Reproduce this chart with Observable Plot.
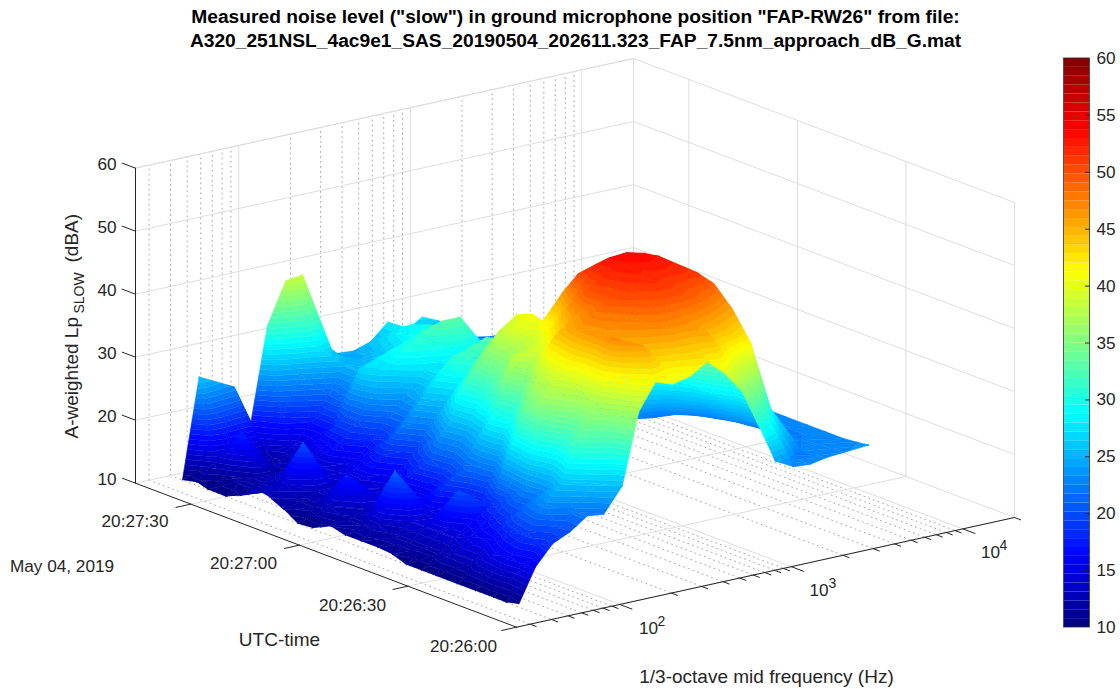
<!DOCTYPE html>
<html><head><meta charset="utf-8">
<style>html,body{margin:0;padding:0;background:#fff}svg{display:block}</style>
<script src="https://cdn.jsdelivr.net/npm/d3@7"></script>
<script src="https://cdn.jsdelivr.net/npm/@observablehq/plot@0.6"></script>
</head><body><div id="chart"></div>
<script>
const titleLines = ['Measured noise level ("slow") in ground microphone position "FAP-RW26" from file:','A320_251NSL_4ac9e1_SAS_20190504_202611.323_FAP_7.5nm_approach_dB_G.mat'];
const freqs = [40,50,63,80,100,125,160,200,250,315,400,500,630,800,1000,1250,1600,2000,2500,3150,4400];
const times = [9,12.5,16,21,26,32,36,40,44,48,52.6,57,61,66,70,74,78,82,86,90,95,98,102];
const row09 = [10.5,15.8,18.9,20.2,22.1,21.8,25.6,36.8,41,40,40.7,42.4,40,36.4,30.4,24.2,22.7,22.5,23,23.2,23.5];
const row12 = [10,15,18,20,22,26,32,41,46,43,44,44,45,41,37,32,23,22.5,22.5,23,23.2];
const row16 = [10,16,19,23,26,33,37,47,45,46,47,47,46,45,43.5,41.6,30,22.4,22.5,23,23];
const row21 = [10,15,18,22,22,30,38,46,47,48,49.5,50,50,49,47.5,45.8,39.8,29.5,22,22.5,23];
const row26 = [10,13,16,19,23,36,40,46,48,50,51,52,51.5,51.5,51,48.7,43,34,24.5,22,23];
const row32 = [10,13,15,17,20,33,38,44,46,50,52,52.8,53.5,52.9,51,47,41,33,24,22,23];
const row36 = [10,12,14,16,18,25,34,40,43,48,51.5,53,53.2,52.5,49,43,36,28,23,22,23];
const row40 = [10,12,14,20,15,21,29,35,40,44,50.2,51,51.6,50,46,40,32,26,22.5,22,22.5];
const row44 = [10.8,12,14,15,16,22,30,38,38,40,46.6,47,47,44,40,34,27,23,22,22,22.5];
const row48 = [11,12,14,15,19,21,26,33,37,39,40,38,33,28,24,22.5,22,22,22,22,22.5];
const row53 = [11,13,21,15,15,19,24,30,36,40,41,38,33,27,23,22.5,22,22,22,22,22];
const row57 = [11,12,14,14,15,20,25,31,35,38,40,38,35,29,24,22.5,22,22,22,22,22];
const row61 = [11.6,12,13,14,16,18,22,27,31,33,35,35,33,28,24,22,22,22,22,22,22];
const row66 = [10.2,13,17.5,13,14,16,19,23,26,29,31,32,31,27,24,22,22,22,22,22,22];
const row70 = [10,12,13,14,15,18,22,25,28,31,32,33,32,28,24,22,22,22,22,22,22];
const row74 = [11.4,12,13,13,15,17,19,21,25,27,28,30,31,28,24,22,22,22,22,22,22];
const row78 = [12.5,14,20,14,14,15,18,21,24,27,28,29,29,26,24,22,22,22,22,22,22];
const row82 = [13,12,14,15,14,17,20,25,28,30,31,33,33,29,25,22.5,22,22,22,22,22];
const row86 = [11,12,13,13,14,16,20,27,28,29,30,31,31,28,25,22.5,22,22,22,22,22];
const row90 = [10,12,12,12,13,15,17,22,25,25,27,29,30,28,24.5,22.5,22,22,22,22,22];
const row95 = [10,11,18,12,12,14,17,21,25,25,26,28,29,27,24,22.5,22,22,22,22,22];
const row98 = [10.5,13,15,14,13,18,24,28,26,24,25,27,28,26,24,22,22,22,22,22,22];
const row102 = [10,25.8,24.4,23,16.6,31.5,38,38.4,27.4,24.7,24.5,25.4,27.9,25.8,27.5,26.3,24,22.5,22,22,22];
const levels = [row09,row12,row16,row21,row26,row32,row36,row40,row44,row48,row53,row57,row61,row66,row70,row74,row78,row82,row86,row90,row95,row98,row102];

const zTicks = [10,20,30,40,50,60];
const timeTicks = [0,30,60,90];
const timeLabels = ['20:26:00','20:26:30','20:27:00','20:27:30'];
const freqMajor = [100,1000,10000];
const freqMinor = [30,40,50,60,70,80,90,200,300,400,500,600,700,800,900,2000,3000,4000,5000,6000,7000,8000,9000];
const cbTicks = [10,15,20,25,30,35,40,45,50,55,60];

// view geometry of the 3-D axes box
const tA = d3.scaleLinear([0,105.3],[0,1]);
const fB = d3.scaleLog([25,20000],[0,1]);
const P = {ox:516,oy:626.7,ax:-381,ay:-144,bx:498,by:-109.7,zy:-6.3};
const px = (a,b)=>P.ox+P.ax*a+P.bx*b;
const py = (a,b,z)=>P.oy+P.ay*a+P.by*b+P.zy*(z-10);

// jet colormap, 64 levels
function jet(u){const c=x=>Math.max(0,Math.min(1,x));const r=c(1.5-Math.abs(4*u-3)),g=c(1.5-Math.abs(4*u-2)),b=c(1.5-Math.abs(4*u-1));return d3.rgb(r*255,g*255,b*255).formatHex();}
const N=64, zMin=10, zMax=60, dz=(zMax-zMin)/N;
const jetRange=d3.range(N).map(i=>jet((i+.5)/N));
const thresholds=d3.range(1,N).map(i=>zMin+i*dz);

function clip(poly,lev,keepAbove){const out=[];for(let i=0;i<poly.length;i++){const p=poly[i],q=poly[(i+1)%poly.length];const pin=keepAbove?p.v>=lev:p.v<=lev,qin=keepAbove?q.v>=lev:q.v<=lev;if(pin)out.push(p);if(pin!==qin){const s=(lev-p.v)/(q.v-p.v);out.push({x:p.x+s*(q.x-p.x),y:p.y+s*(q.y-p.y),v:lev});}}return out;}
const verts=[];let pid=0;
function addTri(tri){const lo=d3.min(tri,d=>d.v),hi=d3.max(tri,d=>d.v);
 const k0=Math.max(0,Math.floor((lo-zMin)/dz)),k1=Math.min(N-1,Math.floor((hi-zMin)/dz));
 for(let k=k0;k<=k1;k++){const L=zMin+k*dz;let poly=clip(tri,L,true);if(poly.length)poly=clip(poly,L+dz,false);if(poly.length<3)continue;pid++;const band=L+dz/2;for(const p of poly)verts.push({x:p.x,y:p.y,band,id:pid});}}
const node=(i,j)=>{const a=tA(times[i]),b=fB(freqs[j]),v=levels[i][j];return {x:px(a,b),y:py(a,b,v),v};};
for(let i=times.length-2;i>=0;i--)for(let j=freqs.length-2;j>=0;j--){
 const n00=node(i,j),n01=node(i,j+1),n10=node(i+1,j),n11=node(i+1,j+1);
 addTri([n10,n11,n01]);addTri([n10,n01,n00]);
}

// axes box
const seg=[];let sid=0;
const addSeg=(p,q)=>{sid++;seg.push({x:p[0],y:p[1],id:sid});seg.push({x:q[0],y:q[1],id:sid});};
const P3=(a,b,z)=>[px(a,b),py(a,b,z)];
for(const z of zTicks){addSeg(P3(1,0,z),P3(1,1,z));addSeg(P3(1,1,z),P3(0,1,z));}
for(const t of timeTicks){const a=tA(t);addSeg(P3(a,1,10),P3(a,1,60));addSeg(P3(a,0,10),P3(a,1,10));}
for(const f of freqMajor){const b=fB(f);addSeg(P3(1,b,10),P3(1,b,60));addSeg(P3(1,b,10),P3(0,b,10));}
addSeg(P3(1,1,10),P3(1,1,60));addSeg(P3(0,1,10),P3(0,1,60));addSeg(P3(1,0,60),P3(1,1,60));
const minor=[];let mid=0;
const addMinor=(p,q)=>{mid++;minor.push({x:p[0],y:p[1],id:mid});minor.push({x:q[0],y:q[1],id:mid});};
for(const f of freqMinor){const b=fB(f);addMinor(P3(1,b,10),P3(1,b,60));addMinor(P3(1,b,10),P3(0,b,10));}
const dark=[];let did=0;
const addDark=(p,q)=>{did++;dark.push({x:p[0],y:p[1],id:did});dark.push({x:q[0],y:q[1],id:did});};
addDark(P3(1,0,10),P3(1,0,60));addDark(P3(1,0,10),P3(0,0,10));addDark(P3(0,0,10),P3(0,1,10));
for(const z of zTicks)addDark(P3(1,0,z),P3(1.035,0,z));
for(const t of timeTicks)addDark(P3(tA(t),0,10),P3(tA(t),-.03,10));
for(const f of freqMajor)addDark(P3(0,fB(f),10),P3(-.032,fB(f),10));
for(const f of freqMinor)addDark(P3(0,fB(f),10),P3(-.016,fB(f),10));
addDark(P3(0,1,10),P3(-.016,1,10));

// colorbar
const cb=d3.scaleLinear([10,60],[627,58]);
const cbRects=d3.range(N).map(i=>({v0:zMin+i*dz,v1:zMin+(i+1)*dz,band:zMin+(i+.5)*dz}));
for(const v of cbTicks){if(v>10&&v<60)addDark([1085,cb(v)],[1089,cb(v)]);}

const ink='#262626', font='"Liberation Sans", Arial, sans-serif';
const texts=[
 {s:titleLines[0],x:575,y:16,a:'middle',w:'bold',c:'#000',fs:19.2},
 {s:titleLines[1],x:575,y:40,a:'middle',w:'bold',c:'#000',fs:19.2},
 {s:'May 04, 2019',x:61.5,y:566,a:'middle',c:ink,fs:17.2},
 {s:'UTC-time',x:279,y:639,a:'middle',c:ink,fs:19},
 {s:'1/3-octave mid frequency (Hz)',x:766,y:676,a:'middle',c:ink,fs:19},
];
const tickY=[521,563,605,646].reverse(), tickX=[134.5,243,352,463].reverse();
timeLabels.forEach((s,i)=>texts.push({s,x:tickX[i],y:tickY[i],a:'middle',c:ink,fs:17.2}));
zTicks.forEach(z=>texts.push({s:String(z),x:116,y:py(1,0,z)-4,a:'end',c:ink,fs:17.2}));
const expo=[['10','2',648,628,661,621],['10','3',818.5,590,832,583],['10','4',990,552,1003,545]];
for(const [m,e,x,y,x2,y2] of expo){texts.push({s:m,x,y,a:'middle',c:ink,fs:17.2});texts.push({s:e,x:x2,y:y2,a:'middle',c:ink,fs:14});}
cbTicks.forEach(v=>texts.push({s:String(v),x:1096,y:cb(v),a:'start',c:ink,fs:17.2}));
const yLabel=[{s:'A-weighted Lp',y:438,fs:19,x:71},{s:'SLOW',y:313,fs:14,x:79},{s:'(dBA)',y:262,fs:19,x:71}];

const plot=Plot.plot({
 width:1120,height:689,margin:0,
 x:{domain:[0,1120],range:[0,1120],axis:null},
 y:{domain:[0,689],range:[0,689],axis:null},
 color:{type:'threshold',domain:thresholds,range:jetRange},
 style:{background:'#fff',fontFamily:font},
 marks:[
  Plot.line(minor,{x:'x',y:'y',z:'id',stroke:'#a8a8a8',strokeWidth:1,strokeDasharray:'1,4'}),
  Plot.line(seg,{x:'x',y:'y',z:'id',stroke:'#dedede',strokeWidth:1}),
  Plot.line(verts,{x:'x',y:'y',z:'id',fill:'band',stroke:'band',strokeWidth:.6,strokeLinejoin:'round'}),
  Plot.rect(cbRects,{x1:()=>1064,x2:()=>1089,y1:d=>cb(d.v0),y2:d=>cb(d.v1),fill:'band'}),
  Plot.line(dark,{x:'x',y:'y',z:'id',stroke:ink,strokeWidth:1}),
  Plot.rect([0],{x1:()=>1063.5,x2:()=>1089.5,y1:()=>58,y2:()=>627,fill:'none',stroke:ink,strokeWidth:.8}),
  ...texts.map(t=>Plot.text([t],{x:'x',y:'y',text:'s',textAnchor:t.a,fontWeight:t.w||'normal',fill:t.c,fontSize:t.fs})),
  ...yLabel.map(t=>Plot.text([t],{x:'x',y:'y',text:'s',textAnchor:'start',rotate:-90,fill:ink,fontSize:t.fs})),
 ]
});
document.getElementById('chart').append(plot);
</script></body></html>
